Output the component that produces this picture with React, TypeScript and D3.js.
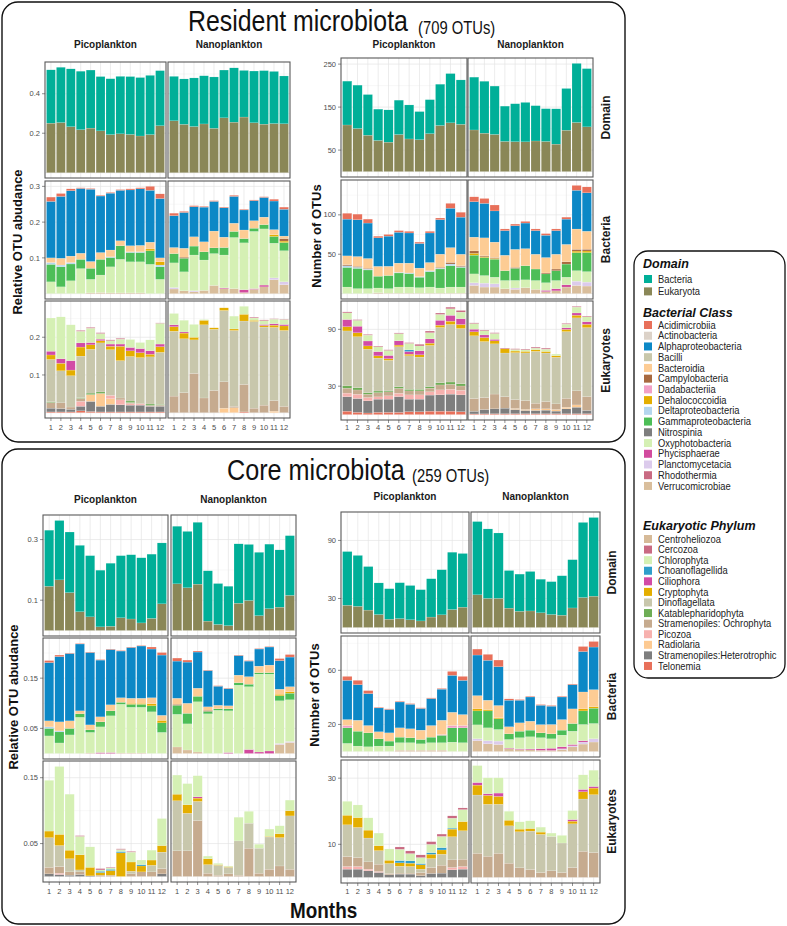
import React from "react";
import * as d3 from "d3";

// ---------------- categories ----------------
const months = ["1", "2", "3", "4", "5", "6", "7", "8", "9", "10", "11", "12"];
const fractions = ["Picoplankton", "Nanoplankton"];
const rowNames = ["Domain", "Bacteria", "Eukaryotes"];

const domainNames = ["Bacteria", "Eukaryota"];
const domainColors = ["#00AF98", "#8A8757"];

const bacClasses = ["Acidimicrobiia", "Actinobacteria", "Alphaproteobacteria", "Bacilli", "Bacteroidia", "Campylobacteria", "Dadabacteriia", "Dehalococcoidia", "Deltaproteobacteria", "Gammaproteobacteria", "Nitrospinia", "Oxyphotobacteria", "Phycisphaerae", "Planctomycetacia", "Rhodothermia", "Verrucomicrobiae"];
const bacColors = ["#E8705A", "#DCD2C8", "#0C88C6", "#C8C7AA", "#FDCC94", "#A8693F", "#F2A0C6", "#E4AE00", "#B4D6EE", "#4DBE57", "#7E7E7E", "#D5F0B4", "#D24B9E", "#DCCBEC", "#C96A82", "#D9BE9C"];

const eukPhyla = ["Centroheliozoa", "Cercozoa", "Chlorophyta", "Choanoflagellida", "Ciliophora", "Cryptophyta", "Dinoflagellata", "Katablepharidophyta", "Stramenopiles: Ochrophyta", "Picozoa", "Radiolaria", "Stramenopiles:Heterotrophic", "Telonemia"];
const eukColors = ["#D6BA98", "#C96A82", "#D5F0B4", "#2F9ECB", "#D24BA6", "#E4AE00", "#C8C7AC", "#6EAD55", "#C6AB8F", "#F7B1AE", "#FDCA92", "#7E7E7E", "#E8705A"];

// stacking order of the recorded columns (bottom -> top)
const bacCols = ["Verrucomicrobiae", "Planctomycetacia", "Phycisphaerae", "Oxyphotobacteria", "Gammaproteobacteria", "Deltaproteobacteria", "Dehalococcoidia", "Dadabacteriia", "Campylobacteria", "Bacteroidia", "Alphaproteobacteria", "Acidimicrobiia"];
const eukCols = ["Telonemia", "Stramenopiles:Heterotrophic", "Radiolaria", "Picozoa", "Stramenopiles: Ochrophyta", "Katablepharidophyta", "Dinoflagellata", "Cryptophyta", "Ciliophora", "Choanoflagellida", "Chlorophyta", "Cercozoa"];

// ---------------- tick labels ----------------
const resRelTicks = [[0.2, 0.4], [0.1, 0.2, 0.3], [0.1, 0.2]];
const resOtuTicks = [[50, 150, 250], [50, 100], [30, 90]];
const coreRelTicks = [[0.1, 0.3], [0.05, 0.15], [0.05, 0.15]];
const coreOtuTicks = [[30, 90], [20, 60], [10, 30]];

// ---------------- Resident: relative abundance ----------------
const resRelBacPico = [
  [0, 0, 0, .033, .049, .005, 0, 0, 0, .013, .158, .012],
  [0, 0, 0, .019, .056, .005, 0, 0, 0, .019, .173, .008],
  [0, 0, 0, .036, .047, .004, 0, 0, 0, .018, .183, .005],
  [0, 0, 0, .07, .026, 0, 0, 0, 0, .017, .181, .002],
  [.002, 0, 0, .038, .031, 0, 0, 0, 0, .019, .202, .002],
  [.003, 0, 0, .049, .044, 0, 0, 0, 0, .019, .158, .002],
  [.002, 0, 0, .073, .026, .002, 0, 0, 0, .019, .159, .002],
  [.002, 0, 0, .094, .038, 0, 0, 0, 0, .014, .141, .002],
  [.002, 0, 0, .087, .026, .002, 0, 0, 0, .017, .156, .003],
  [.002, 0, 0, .087, .026, .002, 0, 0, 0, .018, .158, .003],
  [0, 0, 0, .082, .038, 0, .005, 0, 0, .019, .145, .011],
  [0, 0, 0, .04, .035, .005, .009, 0, 0, .011, .166, .013],
];
const resRelBacNano = [
  [.013, .004, 0, .069, .026, 0, 0, 0, 0, .017, .089, .007],
  [.008, 0, 0, .053, .038, 0, 0, 0, .003, .025, .1, .003],
  [.005, .003, 0, .1, .025, 0, 0, 0, 0, .026, .084, .003],
  [.009, 0, 0, .085, .023, 0, 0, 0, 0, .028, .097, .002],
  [.023, 0, 0, .089, .016, 0, 0, 0, 0, .047, .083, .002],
  [.014, 0, .002, .092, .021, 0, 0, 0, 0, .029, .082, .002],
  [.014, 0, 0, .143, .017, 0, 0, 0, 0, .023, .075, .003],
  [.003, 0, .008, .131, .012, 0, 0, 0, 0, .024, .056, .002],
  [.012, 0, .002, .16, .009, 0, 0, 0, 0, .021, .056, .002],
  [.019, 0, .005, .157, .012, 0, 0, 0, 0, .021, .055, .002],
  [.039, .005, 0, .097, .019, 0, .005, 0, 0, .014, .08, .005],
  [.025, .008, 0, .087, .023, 0, .004, 0, .007, .007, .075, .006],
];
const resRelEukPico = [
  [.002, .01, 0, 0, .015, .002, .112, .012, .01, 0, .088, 0],
  [.002, .009, 0, 0, .015, 0, .085, .02, .012, 0, .111, 0],
  [.002, .007, 0, 0, .006, 0, .083, .015, .025, 0, .095, 0],
  [.005, .012, 0, .013, .008, .002, .11, .024, .011, 0, .031, .002],
  [.003, .027, .018, 0, 0, .004, .116, .012, .006, 0, .038, .002],
  [.002, .015, .034, 0, 0, .004, .13, .006, .004, 0, .015, .002],
  [.002, .02, .015, .009, 0, 0, .121, .009, .006, 0, .009, .002],
  [.002, .019, 0, .013, .005, 0, .099, .038, .006, 0, .013, .002],
  [.002, .018, 0, .004, .003, .004, .118, .015, .009, 0, .021, 0],
  [.002, .018, 0, .003, .002, 0, .121, .013, .011, 0, .016, 0],
  [.002, .015, 0, .002, 0, .004, .125, .007, .009, 0, .029, 0],
  [.002, .015, 0, 0, .003, .002, .138, .015, .007, 0, .055, .001],
];
const resRelEukNano = [
  [0, 0, 0, 0, .044, 0, .172, .012, .005, 0, .03, 0],
  [0, 0, 0, 0, .053, 0, .143, .015, .003, 0, .031, 0],
  [0, 0, 0, 0, .104, 0, .089, .007, 0, 0, .034, 0],
  [0, 0, 0, 0, .039, 0, .194, .012, 0, 0, .002, 0],
  [0, 0, 0, 0, .059, 0, .162, .004, 0, 0, 0, 0],
  [0, 0, .012, 0, .07, 0, .189, .007, 0, 0, 0, 0],
  [0, 0, .013, 0, .004, 0, .201, .004, 0, 0, .034, 0],
  [.002, 0, 0, 0, .073, 0, .168, .018, 0, 0, .021, 0],
  [0, 0, 0, 0, .012, 0, .23, .003, 0, 0, .006, .002],
  [0, 0, 0, 0, .02, 0, .207, .004, .003, 0, .01, .002],
  [0, 0, .004, 0, .028, 0, .194, .006, .004, 0, .012, .001],
  [0, 0, 0, 0, .017, 0, .201, .012, .004, 0, .013, .001],
];

// ---------------- Resident: number of OTUs ----------------
const resOtuBacPico = [
  [0, 0, 0, 8.3, 25, 2, 0, 0, 1.4, 11.2, 46.7, 7.4],
  [0, 0, 0, 6.3, 25.8, 1.3, 0, 0, 1.2, 12.5, 46.7, 7.1],
  [0, 0, 0, 6.3, 23.7, 1.1, 0, 0, 1, 12.5, 45, 5],
  [1, 0, 0, 6.1, 15, 0, 0, 0, 0, 12.5, 36.2, 2.1],
  [.5, 0, 0, 5.8, 16.7, 0, 0, 0, 0, 11.7, 38.3, 2.1],
  [.5, 0, 0, 7.8, 17.9, .8, 0, 0, 0, 11.7, 39.2, 2.1],
  [.5, 0, 0, 7.8, 17.1, .8, 0, 0, 0, 12.5, 38.3, 2.1],
  [.5, 0, 0, 7, 13.3, .8, 0, 0, 0, 10.8, 31.3, 1.7],
  [.5, 0, 0, 7.8, 19.6, 1.2, 0, 0, 0, 10.4, 37.5, 2.1],
  [.5, 0, 0, 6.6, 24.2, 1, 0, 0, 1.1, 16.7, 43.8, 2.1],
  [.5, 0, 0, 7.8, 27.1, 2.2, 0, 0, 2, 18.8, 50, 6.2],
  [.5, 0, 0, 7.8, 25, 1, 0, 0, 1.1, 14.6, 47.1, 6.2],
];
const resOtuBacNano = [
  [10.4, 3.3, 0, 11.3, 23.8, 0, 2.4, 0, 3, 17.5, 45, 6.2],
  [8.3, 5, 0, 9.6, 22.9, 0, 1, 0, 1.1, 22.9, 43.8, 6.2],
  [8.3, 4.2, 0, 8.3, 22.9, 0, 1, 0, 1.1, 19.6, 39.6, 7.5],
  [6.2, 0, 0, 10.4, 12.5, 0, 0, 0, 0, 19.6, 31.3, 2.1],
  [5.4, 1.7, 0, 9.6, 15.4, 0, 0, 0, 1.2, 22.9, 30, 2.1],
  [7.5, 0, 0, 10, 17.9, 0, 0, 0, 0, 21.7, 32.5, 2.1],
  [5.4, 0, 0, 11.2, 14.6, 0, 0, 0, 0, 18.8, 30, 2.1],
  [2.5, 0, 1.7, 9.6, 11.2, 0, 0, 0, 1.2, 19.6, 28.3, 2.1],
  [3.5, 0, 2.7, 10.4, 12.5, 0, 0, 0, 2.1, 18.8, 30, 2.1],
  [8.3, 0, 2.9, 9.6, 16.7, 0, 0, 0, 2.9, 22.1, 32.1, 2.5],
  [10.4, 5.4, 0, 13.3, 22.9, 0, 2, 0, 2.2, 25.8, 49.2, 6.2],
  [9.6, 5, 0, 13.3, 24.2, 0, 2, 0, 2.2, 22.9, 48.8, 7.5],
];
const resOtuEukPico = [
  [3.6, 15.3, 0, 3.8, 5.2, 2.4, 58, 4.5, 7.6, 0, 7, 1],
  [2.4, 14.6, 0, 4.5, 4.5, 2.4, 53.8, 4.2, 6.9, 0, 6.2, .7],
  [1.7, 12.8, 0, 3.5, 3.5, 1.7, 45.8, 3.5, 5.2, 0, 6.2, .7],
  [2.4, 13.9, 0, 2.4, 4.5, 1.7, 34.7, 2.4, 4.5, 0, 5.2, .7],
  [2.4, 13.9, 0, 3.5, 4.2, 1, 32.3, 1.7, 3.5, 0, 5.2, .7],
  [2.4, 16.6, 0, 3.5, 5.2, 1.7, 42.3, 1.7, 4.5, 0, 7.6, .7],
  [3.1, 13.2, 0, 4.5, 4.2, 1.7, 35.4, 1.7, 2.8, 1.7, 6.9, .7],
  [3.1, 13.2, 0, 4.5, 4.2, 1.7, 34, 2.4, 4.2, 0, 5.2, 1.7],
  [3.6, 17, 0, 3.5, 3.8, 1.7, 43.4, 2.4, 4.5, 0, 6.6, 1.7],
  [3.6, 17.3, 0, 5.2, 5.2, 2.4, 58.3, 2.4, 5.2, 0, 6.2, 1.4],
  [3.6, 18, 0, 5.2, 5.2, 2.4, 60.7, 3.5, 6.2, 0, 6.9, 1.7],
  [3.1, 17.7, 0, 4.9, 4.5, 2.4, 58.3, 4.2, 6.2, 0, 6.9, 1.7],
];
const resOtuEukNano = [
  [.7, 2.8, 0, 0, 13.5, 0, 66.2, 4.2, 2.8, 0, 5.9, .7],
  [.8, 4.5, 0, 0, 12.8, 0, 59, 4.2, 2.8, 0, 4.5, .7],
  [.9, 5.2, 0, 0, 15.6, 0, 53, 3.1, 1.7, 0, 6.2, .7],
  [.9, 5.9, 0, 0, 12.1, 0, 46.1, 4.5, 0, 0, 0, .7],
  [.9, 4.5, 1, 0, 9.4, 0, 49.6, 1.7, 0, 0, 1.7, .7],
  [.9, 3.5, 1, 0, 9.4, 0, 50.3, 1.7, 0, 0, 1.7, .7],
  [.9, 3.5, 1.7, 0, 5.9, 0, 54.8, 1.7, 0, 0, 1.7, 1],
  [.9, 3.8, 1.4, 0, 7.6, 0, 51.3, 1.7, 0, 0, 2.4, 1],
  [.9, 2.8, 1.7, 0, 5.9, 0, 49.2, 1.7, 0, 0, 1.7, 0],
  [.9, 5.2, 1.7, 0, 9.4, 0, 70.4, 2.4, 1.7, 0, 3.8, .7],
  [.9, 6.9, 2.4, 0, 14.9, 0, 77, 2.8, 2.4, 0, 6.2, .7],
  [.9, 3.5, 0, 0, 14.6, 0, 72.8, 3.5, 2.8, 0, 5.2, .7],
];

// ---------------- Core: relative abundance ----------------
const coreRelBacPico = [
  [0, 0, 0, .035, .015, .003, 0, 0, 0, .012, .116, .004],
  [0, 0, 0, .021, .022, .002, 0, 0, 0, .018, .13, .003],
  [0, 0, 0, .037, .013, 0, 0, 0, 0, .015, .134, .001],
  [0, 0, 0, .072, .007, 0, 0, 0, 0, .006, .133, .001],
  [.001, 0, 0, .041, .005, 0, 0, 0, 0, .01, .144, .001],
  [0, 0, .002, .051, .01, 0, 0, 0, 0, .01, .113, .001],
  [0, 0, .002, .073, .01, 0, 0, 0, 0, .012, .11, .001],
  [.001, 0, 0, .097, .004, 0, 0, 0, 0, .009, .093, .001],
  [.001, 0, 0, .091, .006, 0, .002, 0, 0, .01, .101, .001],
  [.001, 0, 0, .091, .006, 0, .002, 0, 0, .01, .104, .001],
  [0, 0, 0, .083, .012, 0, .004, 0, 0, .012, .097, .004],
  [0, 0, 0, .042, .019, 0, .005, 0, 0, .01, .12, .005],
];
const coreRelBacNano = [
  [.013, 0, 0, .065, .018, 0, 0, 0, .002, .012, .074, .006],
  [.007, 0, 0, .052, .021, 0, 0, 0, 0, .02, .082, .004],
  [.003, 0, 0, .1, .011, 0, 0, 0, 0, .016, .072, .002],
  [0, 0, 0, .079, .005, 0, 0, 0, .002, .007, .072, .001],
  [0, 0, 0, .086, .003, 0, 0, 0, 0, .007, .038, .001],
  [0, 0, .002, .083, .004, 0, 0, 0, 0, .006, .034, .001],
  [0, 0, 0, .136, .005, 0, 0, 0, 0, .015, .039, .001],
  [0, 0, .008, .125, .005, 0, 0, 0, 0, .015, .031, .001],
  [0, 0, .003, .155, .003, 0, 0, 0, 0, .013, .034, .001],
  [0, 0, .005, .153, .003, 0, 0, 0, 0, .015, .036, .001],
  [.018, .002, 0, .085, .01, 0, .003, 0, 0, .01, .057, .004],
  [.022, .002, 0, .083, .013, 0, .003, 0, 0, .01, .059, .005],
];
const coreRelEukPico = [
  [0, .004, 0, 0, .01, 0, .045, .01, 0, 0, .077, 0],
  [0, .003, 0, .002, .01, 0, .032, .017, 0, 0, .103, 0],
  [0, .002, 0, 0, .005, 0, .02, .013, 0, 0, .085, 0],
  [0, .003, 0, 0, .004, 0, .003, .023, 0, 0, .028, .001],
  [0, .001, 0, 0, 0, 0, 0, .013, 0, 0, .031, 0],
  [0, 0, 0, 0, .002, 0, 0, .004, 0, .002, .002, .002],
  [0, 0, 0, 0, .002, 0, 0, .007, 0, .002, .002, .001],
  [0, 0, 0, 0, 0, 0, 0, .036, 0, .002, .003, .001],
  [0, 0, 0, 0, .004, 0, .004, .014, 0, 0, .015, .001],
  [0, 0, 0, 0, .007, 0, 0, .009, 0, .002, .007, 0],
  [0, 0, 0, 0, .007, 0, .01, .008, 0, 0, .015, 0],
  [0, .004, 0, 0, .008, 0, .025, .01, 0, 0, .041, 0],
];
const coreRelEukNano = [
  [0, 0, 0, 0, .039, 0, .076, .01, 0, 0, .029, 0],
  [0, 0, 0, 0, .039, 0, .057, .013, 0, 0, .032, 0],
  [0, 0, 0, 0, .085, 0, .029, .005, .002, 0, .032, 0],
  [0, 0, 0, 0, .005, 0, .013, .009, 0, 0, .004, 0],
  [0, 0, 0, 0, .002, 0, .015, .001, 0, 0, .002, 0],
  [0, 0, 0, 0, .004, 0, .01, .001, 0, 0, .001, 0],
  [0, 0, 0, 0, .002, 0, .052, 0, 0, 0, .036, 0],
  [0, 0, 0, 0, .043, 0, .038, 0, 0, 0, .018, 0],
  [0, 0, 0, 0, .005, 0, .038, 0, 0, 0, .006, 0],
  [0, 0, 0, 0, .011, 0, .049, .001, 0, 0, .011, 0],
  [0, 0, 0, 0, .016, 0, .043, .006, 0, 0, .012, 0],
  [0, 0, 0, 0, .011, 0, .081, .008, 0, 0, .016, 0],
];

// ---------------- Core: number of OTUs ----------------
const coreOtuBacPico = [
  [0, 0, 0, 6, 11.5, 0, 0, 1.7, 0, 4.4, 29, 2.9],
  [0, 0, 0, 4, 11, 0, 0, 0, 0, 8.1, 26.3, 3.2],
  [0, 0, 0, 3.5, 10.3, 0, 0, 0, 0, 5.4, 23.6, 2.2],
  [0, 0, 0, 4, 5.4, 0, 0, 0, 0, 5.2, 17.6, .5],
  [0, 0, 0, 4, 3.7, 0, 0, 0, 0, 6.1, 17.2, .5],
  [1, 0, 0, 5.5, 4.1, 0, 0, 0, 0, 6.9, 19.1, .5],
  [1, 0, 0, 5.5, 3.7, 0, 0, 0, 0, 6.6, 18.1, .5],
  [1, 0, 0, 4.7, 3.2, 0, 0, 0, 0, 6.9, 16, .5],
  [1, 0, 0, 5.5, 4.1, 0, 0, 0, 0, 8.6, 19.9, .5],
  [1, 0, 0, 5.5, 5.5, 0, 0, .6, 0, 10.5, 23, .5],
  [0, 0, 0, 6.9, 10.6, 0, 0, 1.7, 0, 9.8, 27.3, 2.9],
  [0, 0, 0, 6.5, 11, 0, 0, 1.7, 0, 8.1, 25.3, 2.9],
];
const coreOtuBacNano = [
  [8, 1.4, 0, 10.3, 10.3, 0, 1.5, 0, 0, 9.8, 30, 4.4],
  [5.7, 2.3, 0, 9.5, 12.5, 0, 1, 0, 0, 6.9, 29.5, 4.4],
  [5.2, 2.5, 0, 8.6, 7.9, 0, .7, 0, 0, 9.1, 28.7, 4.9],
  [2, 0, .5, 6.4, 4.2, 0, 0, 0, 0, 5.2, 19.6, 1],
  [1.5, 0, .5, 8.2, 4.8, 0, 0, 0, 0, 6.2, 16.7, .5],
  [1.3, 0, .6, 9, 4.9, 0, 0, 0, 0, 6.6, 17.9, .5],
  [.9, 0, 1.2, 8.1, 3.6, 0, 0, 0, 0, 6.1, 14.3, .5],
  [.8, 0, 1.6, 7, 3.7, 0, 0, 0, 0, 6.9, 13.5, .5],
  [1.5, .5, 1.5, 8.6, 3.7, 0, 0, 0, 0, 7.8, 16.7, .5],
  [3.4, .8, 1, 9.8, 5.7, 0, 0, 0, 0, 10.8, 17.9, .5],
  [5.5, 1.5, 1, 12, 10, 0, 1.5, 0, 0, 12.5, 29.9, 3.7],
  [7, 2.4, 0, 11.3, 11.3, 0, 1, 0, 0, 12.7, 31.5, 4.1],
];
const coreOtuEukPico = [
  [0, 2.5, 0, .8, 3, 0, 9.6, 2.9, 0, 0, 4.2, 0],
  [0, 2.5, 0, .8, 2.7, 0, 9.1, 3, 0, 0, 3.8, 0],
  [0, 2, 0, .5, 2.2, 0, 7.2, 2.4, 0, 0, 3.7, 0],
  [0, 1.5, 0, .3, 2.2, 0, 4.1, 1.5, 0, 0, 3.8, 0],
  [0, .8, 0, 0, .4, 0, 3, 1, 0, 0, 3.4, 0],
  [0, 1, 0, 0, .3, 0, 2.1, 1, 0, .7, 3.4, .7],
  [0, 1, 0, 0, .3, 0, 2, 1, 0, .7, 2.2, .8],
  [0, .5, 0, 0, 1, 0, 1, 1.3, 0, .4, 1.8, .8],
  [0, 1.2, 0, 0, 1.8, 0, 2.7, 1.3, 0, .5, 2.5, .8],
  [0, 1.3, 0, 0, 2.4, 0, 3.3, 1.3, 0, .7, 3.4, .7],
  [0, 2.3, 0, .7, 2.3, 0, 7, 2.3, 0, .3, 3, .7],
  [0, 2.5, 0, .8, 2.2, 0, 8.6, 2.8, 0, 0, 3.6, .5],
];
const coreOtuEukNano = [
  [0, 0, 0, 0, 7.3, 0, 17.6, 3, .8, 0, 5.1, 0],
  [0, 0, 0, 0, 6.4, 0, 15.7, 2.7, .5, 0, 4.8, 0],
  [0, 0, 0, 0, 7.3, 0, 14.8, 2.4, 1, 0, 4.6, 0],
  [0, 0, 0, 0, 4.3, 0, 11.3, 1.7, 0, 0, 2.7, 0],
  [0, 0, 0, 0, 2.9, 0, 10.9, .8, 0, 0, 2.2, 0],
  [0, 0, 0, 0, 2.4, 0, 11.6, .8, 0, 0, 2.3, 0],
  [0, 0, 0, 0, 1.5, 0, 11.5, .7, 0, 0, 1.5, 0],
  [0, 0, 0, 0, 2, 0, 10.4, 0, 0, 0, 1, 0],
  [0, 0, 0, 0, 1.5, 0, 8.9, 0, 0, 0, 2.3, 0],
  [0, 0, 0, 0, 3, 0, 13.2, .8, .5, 0, 2.7, 0],
  [0, 0, 0, 0, 7.9, 0, 15.8, 2.2, .7, 0, 4.4, 0],
  [0, 0, 0, 0, 7.5, 0, 17.5, 2, .5, 0, 4.9, 0],
];

// ---------------- helpers ----------------
type Mat = number[][];
const FONT = "'Liberation Sans', Arial, Helvetica, sans-serif";

const colorOf = (names: string[], colors: string[]) => {
  const m = new Map(names.map((n, i) => [n, colors[i]]));
  return (n: string) => m.get(n) as string;
};
const bacColor = colorOf(bacClasses, bacColors);
const eukColor = colorOf(eukPhyla, eukColors);
const domColor = colorOf(domainNames, domainColors);

const domainMatrix = (bac: Mat, euk: Mat): Mat =>
  bac.map((row, i) => [d3.sum(euk[i]), d3.sum(row)]);

type RowProps = {
  mats: Mat[];
  colors: string[];
  ticks: number[];
  xs: number[][];
  yr: number[];
  bottom: boolean;
  labelY: number;
};

function PanelRow({ mats, colors, ticks, xs, yr, bottom, labelY }: RowProps) {
  const M = d3.max(mats.flat().map((r) => d3.sum(r))) as number;
  const y = d3.scaleLinear().domain([-0.05 * M, 1.05 * M]).range([yr[1], yr[0]]);
  const step = ticks.length > 1 ? ticks[1] - ticks[0] : ticks[0];
  const grid: { v: number; major: boolean }[] = [];
  for (let j = -60; j <= 60; j++) {
    const v = ticks[0] + (j * step) / 2;
    if (v > y.domain()[0] && v < y.domain()[1]) grid.push({ v, major: j % 2 === 0 });
  }
  const keys = d3.range(colors.length);
  return (
    <g>
      {mats.map((mat, fi) => {
        const [x0, x1] = xs[fi];
        const xb = d3.scaleBand<string>().domain(months).range([x0, x1]).paddingInner(0.1).paddingOuter(0.15);
        const series = d3.stack<number[], number>().keys(keys).value((d, k) => d[k])(mat);
        const bw = xb.bandwidth();
        return (
          <g key={fi}>
            <rect x={x0} y={yr[0]} width={x1 - x0} height={yr[1] - yr[0]} fill="#fff" />
            {grid.map((g, gi) => (
              <line key={"g" + gi} x1={x0} x2={x1} y1={y(g.v)} y2={y(g.v)} stroke={g.major ? "#e4e4e4" : "#f1f1f1"} strokeWidth={g.major ? 0.7 : 0.5} />
            ))}
            {months.map((m) => (
              <line key={"v" + m} x1={(xb(m) as number) + bw / 2} x2={(xb(m) as number) + bw / 2} y1={yr[0]} y2={yr[1]} stroke="#e4e4e4" strokeWidth={0.7} />
            ))}
            {series.map((s, si) =>
              s.map((seg, mi) =>
                seg[1] - seg[0] > 0 ? (
                  <rect
                    key={si + "-" + mi}
                    x={xb(months[mi])}
                    width={bw}
                    y={y(seg[1])}
                    height={y(seg[0]) - y(seg[1])}
                    fill={colors[si]}
                    stroke="#ffffff"
                    strokeWidth={0.25}
                    strokeOpacity={0.6}
                  />
                ) : null
              )
            )}
            <rect x={x0} y={yr[0]} width={x1 - x0} height={yr[1] - yr[0]} fill="none" stroke="#5a5a5a" strokeWidth={1.1} />
            {fi === 0 &&
              ticks.map((t) => (
                <g key={"t" + t}>
                  <line x1={x0 - 3} x2={x0} y1={y(t)} y2={y(t)} stroke="#444" strokeWidth={0.6} />
                  <text x={x0 - 5} y={y(t)} dy="0.35em" textAnchor="end" fontSize={7.5} fill="#4d4d4d">
                    {String(t)}
                  </text>
                </g>
              ))}
            {bottom &&
              months.map((m) => (
                <g key={"x" + m}>
                  <line x1={(xb(m) as number) + bw / 2} x2={(xb(m) as number) + bw / 2} y1={yr[1]} y2={yr[1] + 3} stroke="#444" strokeWidth={0.6} />
                  <text x={(xb(m) as number) + bw / 2} y={labelY} textAnchor="middle" fontSize={7.5} fill="#4d4d4d">
                    {m}
                  </text>
                </g>
              ))}
          </g>
        );
      })}
    </g>
  );
}

type GroupLayout = { xs: number[][]; rows: number[][] };

function MetricGroup({ bac, euk, ticks, L, labelY }: { bac: Mat[]; euk: Mat[]; ticks: number[][]; L: GroupLayout; labelY: number }) {
  const dom = [domainMatrix(bac[0], euk[0]), domainMatrix(bac[1], euk[1])];
  const domCols = ["Eukaryota", "Bacteria"].map(domColor);
  const bacC = bacCols.map(bacColor);
  const eukC = eukCols.map(eukColor);
  return (
    <g>
      <PanelRow mats={dom} colors={domCols} ticks={ticks[0]} xs={L.xs} yr={L.rows[0]} bottom={false} labelY={labelY} />
      <PanelRow mats={bac} colors={bacC} ticks={ticks[1]} xs={L.xs} yr={L.rows[1]} bottom={false} labelY={labelY} />
      <PanelRow mats={euk} colors={eukC} ticks={ticks[2]} xs={L.xs} yr={L.rows[2]} bottom={true} labelY={labelY} />
    </g>
  );
}

const sections = [
  {
    title: "Resident microbiota",
    sub: "(709 OTUs)",
    box: [2, 2, 625, 442],
    titlePos: { x: 188, y: 31, sc: 0.83, sx: 418, sy: 34, ssc: 0.8 },
    left: { xs: [[45, 166], [168, 290]], rows: [[62, 178], [181, 299], [301, 418]] },
    right: { xs: [[341, 467], [468, 593]], rows: [[58, 177], [180, 299], [301, 420]] },
    stripLeftY: 48, stripRightY: 48, labelY: 430, stripX: 606,
    yTitleL: [17, 242], yTitleR: [316, 236],
    rel: { bac: [resRelBacPico, resRelBacNano], euk: [resRelEukPico, resRelEukNano], ticks: resRelTicks },
    otu: { bac: [resOtuBacPico, resOtuBacNano], euk: [resOtuEukPico, resOtuEukNano], ticks: resOtuTicks },
  },
  {
    title: "Core microbiota",
    sub: "(259 OTUs)",
    box: [2, 449, 625, 924],
    titlePos: { x: 227, y: 480, sc: 0.84, sx: 412, sy: 482, ssc: 0.8 },
    left: { xs: [[43, 168], [171, 296]], rows: [[515, 636], [638, 759], [761, 882]] },
    right: { xs: [[341, 469], [471, 600]], rows: [[512, 633], [636, 757], [760, 883]] },
    stripLeftY: 503, stripRightY: 500, labelY: 894, stripX: 612,
    yTitleL: [13, 697], yTitleR: [314, 695],
    rel: { bac: [coreRelBacPico, coreRelBacNano], euk: [coreRelEukPico, coreRelEukNano], ticks: coreRelTicks },
    otu: { bac: [coreOtuBacPico, coreOtuBacNano], euk: [coreOtuEukPico, coreOtuEukNano], ticks: coreOtuTicks },
  },
];

function Legend() {
  const blocks = [
    { title: "Domain", titleY: 268, firstY: 279, step: 12.4, names: domainNames, colors: domainColors },
    { title: "Bacterial Class", titleY: 317, firstY: 325, step: 10.73, names: bacClasses, colors: bacColors },
    { title: "Eukaryotic Phylum", titleY: 530, firstY: 539, step: 10.58, names: eukPhyla, colors: eukColors },
  ];
  return (
    <g>
      <rect x={634} y={251} width={151} height={427} rx={14} ry={14} fill="#fff" stroke="#111" strokeWidth={1.3} />
      {blocks.map((b) => (
        <g key={b.title}>
          <text x={643} y={b.titleY} fontSize={12.5} fontWeight="bold" fontStyle="italic" fill="#111">
            {b.title}
          </text>
          {b.names.map((n, i) => (
            <g key={n}>
              <rect x={644} y={b.firstY + i * b.step - 4} width={8} height={8} fill={b.colors[i]} />
              <text transform={`translate(658,${b.firstY + i * b.step}) scale(0.9,1)`} dy="0.35em" fontSize={10.4} fill="#222">
                {n}
              </text>
            </g>
          ))}
        </g>
      ))}
    </g>
  );
}

export default function App() {
  return (
    <svg
      width={787}
      height={926}
      viewBox="0 0 787 926"
      style={{ position: "absolute", left: 0, top: 0, display: "block", background: "#fff" }}
      fontFamily={FONT}
    >
      <rect x={0} y={0} width={787} height={926} fill="#fff" />
      {sections.map((s) => {
        const [bx0, by0, bx1, by1] = s.box;
        const tp = s.titlePos;
        return (
          <g key={s.title}>
            <rect x={bx0} y={by0} width={bx1 - bx0} height={by1 - by0} rx={16} ry={16} fill="none" stroke="#111" strokeWidth={1.4} />
            <text transform={`translate(${tp.x},${tp.y}) scale(${tp.sc},1)`} fontSize={30} fill="#111">
              {s.title}
            </text>
            <text transform={`translate(${tp.sx},${tp.sy}) scale(${tp.ssc},1)`} fontSize={18.5} fill="#111">
              {s.sub}
            </text>
            {[s.left, s.right].map((g, gi) =>
              fractions.map((f, fi) => (
                <text
                  key={gi + f}
                  x={(g.xs[fi][0] + g.xs[fi][1]) / 2}
                  y={gi === 0 ? s.stripLeftY : s.stripRightY}
                  textAnchor="middle"
                  fontSize={10}
                  fontWeight="bold"
                  fill="#1a1a1a"
                >
                  {f}
                </text>
              ))
            )}
            {rowNames.map((r, ri) => (
              <text
                key={r}
                transform={`translate(${s.stripX},${(s.right.rows[ri][0] + s.right.rows[ri][1]) / 2}) rotate(-90)`}
                textAnchor="middle"
                dy="0.35em"
                fontSize={12}
                fontWeight="bold"
                fill="#1a1a1a"
              >
                {r}
              </text>
            ))}
            <text transform={`translate(${s.yTitleL[0]},${s.yTitleL[1]}) rotate(-90)`} textAnchor="middle" dy="0.35em" fontSize={13} fontWeight="bold" fill="#111">
              Relative OTU abudance
            </text>
            <text transform={`translate(${s.yTitleR[0]},${s.yTitleR[1]}) rotate(-90)`} textAnchor="middle" dy="0.35em" fontSize={13} fontWeight="bold" fill="#111">
              Number of OTUs
            </text>
            <MetricGroup bac={s.rel.bac} euk={s.rel.euk} ticks={s.rel.ticks} L={s.left} labelY={s.labelY} />
            <MetricGroup bac={s.otu.bac} euk={s.otu.euk} ticks={s.otu.ticks} L={s.right} labelY={s.labelY} />
          </g>
        );
      })}
      <text transform="translate(290,918) scale(0.86,1)" fontSize={22} fontWeight="bold" fill="#111">
        Months
      </text>
      <Legend />
    </svg>
  );
}
